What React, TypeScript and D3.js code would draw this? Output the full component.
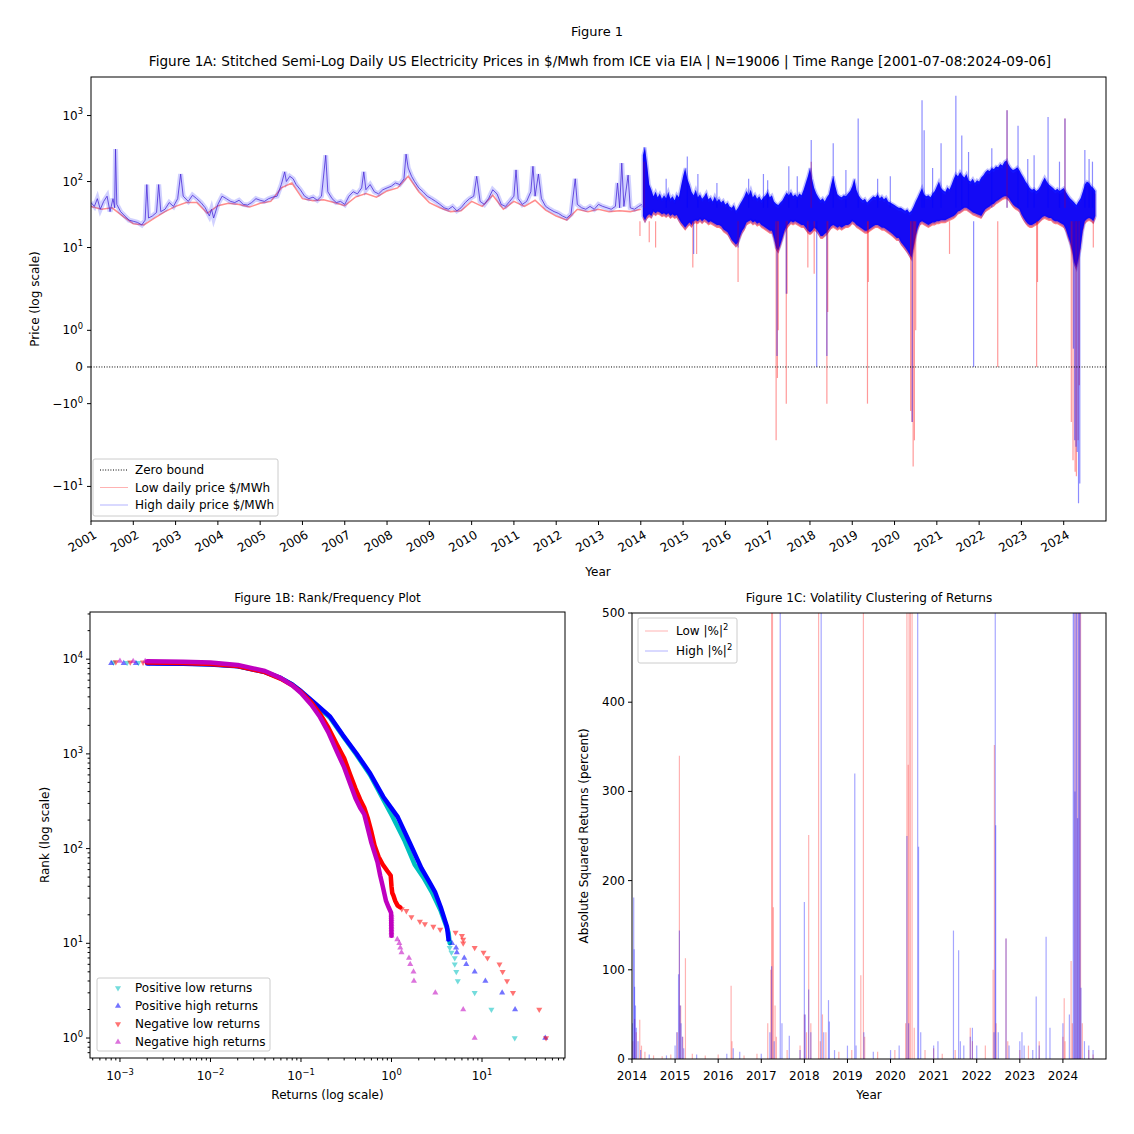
import { useEffect, useRef } from "react"
import * as d3 from "d3"

// ---------- Figure 1A: daily prices (decimal year on the tick grid, $/MWh) ----------
// single hub era, high daily price
const preHigh: [number, number][] = [
  [2001.0, 48], [2001.08, 42], [2001.15, 55], [2001.22, 38], [2001.3, 50], [2001.38, 60], [2001.45, 35],
  [2001.52, 55], [2001.56, 40], [2001.58, 310], [2001.61, 45], [2001.7, 35], [2001.8, 30], [2001.9, 26],
  [2002.0, 25], [2002.1, 24], [2002.2, 22], [2002.28, 26], [2002.32, 90], [2002.36, 28], [2002.45, 30],
  [2002.55, 34], [2002.6, 90], [2002.65, 35], [2002.75, 38], [2002.85, 48], [2002.95, 42], [2003.05, 55],
  [2003.12, 130], [2003.18, 60], [2003.3, 50], [2003.4, 62], [2003.5, 55], [2003.6, 48], [2003.7, 40],
  [2003.8, 30], [2003.85, 38], [2003.9, 28], [2004.0, 45], [2004.1, 60], [2004.2, 55], [2004.3, 50],
  [2004.4, 48], [2004.5, 52], [2004.6, 45], [2004.7, 44], [2004.8, 48], [2004.9, 55], [2005.0, 52],
  [2005.1, 50], [2005.2, 55], [2005.3, 58], [2005.4, 60], [2005.5, 90], [2005.58, 140], [2005.62, 100],
  [2005.7, 120], [2005.78, 110], [2005.85, 90], [2005.95, 75], [2006.05, 60], [2006.15, 55], [2006.25, 58],
  [2006.35, 52], [2006.45, 60], [2006.55, 250], [2006.6, 70], [2006.7, 55], [2006.8, 48], [2006.9, 50],
  [2007.0, 45], [2007.1, 60], [2007.2, 70], [2007.3, 65], [2007.4, 80], [2007.45, 140], [2007.5, 75],
  [2007.6, 90], [2007.7, 70], [2007.8, 65], [2007.9, 75], [2008.0, 80], [2008.1, 85], [2008.2, 95],
  [2008.3, 90], [2008.4, 110], [2008.45, 260], [2008.5, 160], [2008.58, 120], [2008.65, 100], [2008.75, 80],
  [2008.85, 70], [2008.95, 60], [2009.05, 55], [2009.15, 50], [2009.25, 45], [2009.35, 40], [2009.45, 38],
  [2009.55, 42], [2009.65, 36], [2009.75, 40], [2009.85, 48], [2009.95, 55], [2010.05, 60], [2010.12, 120],
  [2010.2, 50], [2010.3, 45], [2010.4, 55], [2010.5, 75], [2010.6, 65], [2010.7, 45], [2010.8, 42],
  [2010.9, 50], [2011.0, 60], [2011.05, 150], [2011.1, 55], [2011.2, 45], [2011.3, 50], [2011.4, 70],
  [2011.45, 170], [2011.5, 60], [2011.58, 130], [2011.65, 55], [2011.75, 42], [2011.85, 38], [2011.95, 35],
  [2012.05, 33], [2012.15, 30], [2012.25, 28], [2012.35, 32], [2012.45, 110], [2012.5, 45], [2012.6, 40],
  [2012.7, 38], [2012.8, 42], [2012.9, 38], [2013.0, 45], [2013.1, 42], [2013.2, 40], [2013.3, 38],
  [2013.4, 42], [2013.45, 95], [2013.5, 40], [2013.55, 190], [2013.6, 42], [2013.7, 125], [2013.75, 40],
  [2013.85, 38], [2013.95, 42], [2014.02, 45],
]

// single hub era, low daily price
const preLow: [number, number][] = [
  [2001.0, 42], [2001.25, 38], [2001.5, 40], [2001.75, 30], [2002.0, 23], [2002.25, 22], [2002.5, 28],
  [2002.75, 35], [2003.0, 42], [2003.25, 48], [2003.5, 48], [2003.75, 33], [2004.0, 43], [2004.25, 47],
  [2004.5, 45], [2004.75, 41], [2005.0, 47], [2005.25, 50], [2005.5, 80], [2005.75, 95], [2006.0, 55],
  [2006.25, 51], [2006.5, 53], [2006.75, 48], [2007.0, 43], [2007.25, 58], [2007.5, 66], [2007.75, 58],
  [2008.0, 72], [2008.25, 80], [2008.5, 120], [2008.75, 70], [2009.0, 48], [2009.25, 40], [2009.5, 35],
  [2009.75, 36], [2010.0, 50], [2010.25, 42], [2010.5, 62], [2010.75, 38], [2011.0, 50], [2011.25, 42],
  [2011.5, 52], [2011.75, 37], [2012.0, 30], [2012.25, 26], [2012.5, 38], [2012.75, 35], [2013.0, 38],
  [2013.25, 35], [2013.5, 36], [2013.75, 35], [2014.0, 38],
]

// stitched multi-hub era: dense band [year, bottom, top]
const band: [number, number, number][] = [
  [2014.05, 30, 250], [2014.1, 26, 330], [2014.15, 30, 180], [2014.2, 32, 90], [2014.25, 30, 75],
  [2014.3, 35, 60], [2014.35, 33, 70], [2014.4, 35, 58], [2014.45, 34, 66], [2014.5, 32, 55],
  [2014.55, 33, 62], [2014.6, 31, 56], [2014.65, 33, 70], [2014.7, 30, 55], [2014.75, 32, 60],
  [2014.8, 30, 52], [2014.85, 31, 64], [2014.9, 27, 58], [2014.95, 24, 85],
  [2015.0, 22, 120], [2015.05, 20, 160], [2015.1, 22, 110], [2015.15, 24, 90], [2015.2, 22, 70],
  [2015.25, 25, 62], [2015.3, 26, 75], [2015.35, 25, 58], [2015.4, 27, 64], [2015.45, 25, 55],
  [2015.5, 27, 60], [2015.55, 26, 68], [2015.6, 24, 54], [2015.65, 25, 58], [2015.7, 24, 50],
  [2015.75, 23, 60], [2015.8, 22, 50], [2015.85, 22, 55], [2015.9, 21, 48], [2015.95, 19, 52],
  [2016.0, 18, 45], [2016.05, 17, 48], [2016.1, 15, 42], [2016.15, 13, 40], [2016.2, 12, 44],
  [2016.25, 11, 36], [2016.3, 12, 40], [2016.35, 15, 46], [2016.4, 18, 52], [2016.45, 20, 60],
  [2016.5, 24, 72], [2016.55, 25, 62], [2016.6, 26, 75], [2016.65, 24, 58], [2016.7, 25, 64],
  [2016.75, 23, 55], [2016.8, 24, 60], [2016.85, 22, 52], [2016.9, 21, 58], [2016.95, 20, 62],
  [2017.0, 19, 70], [2017.05, 18, 58], [2017.1, 18, 62], [2017.15, 14, 50], [2017.2, 10, 46],
  [2017.25, 9, 44], [2017.3, 11, 48], [2017.35, 14, 52], [2017.4, 18, 60], [2017.45, 21, 68],
  [2017.5, 23, 62], [2017.55, 25, 70], [2017.6, 24, 60], [2017.65, 25, 64], [2017.7, 24, 58],
  [2017.75, 23, 66], [2017.8, 22, 62], [2017.85, 22, 75], [2017.9, 20, 95], [2017.95, 18, 120],
  [2018.0, 17, 160], [2018.05, 18, 110], [2018.1, 20, 80], [2018.15, 19, 66], [2018.2, 17, 58],
  [2018.25, 15, 52], [2018.3, 15, 56], [2018.35, 16, 50], [2018.4, 17, 58], [2018.45, 19, 64],
  [2018.5, 21, 90], [2018.55, 22, 120], [2018.6, 21, 85], [2018.65, 20, 64], [2018.7, 21, 60],
  [2018.75, 20, 58], [2018.8, 21, 62], [2018.85, 22, 60], [2018.9, 22, 66], [2018.95, 23, 72],
  [2019.0, 25, 85], [2019.05, 24, 110], [2019.1, 22, 75], [2019.15, 21, 62], [2019.2, 20, 56],
  [2019.25, 19, 52], [2019.3, 18, 55], [2019.35, 18, 48], [2019.4, 19, 52], [2019.45, 20, 56],
  [2019.5, 21, 60], [2019.55, 22, 58], [2019.6, 22, 64], [2019.65, 21, 56], [2019.7, 20, 60],
  [2019.75, 20, 54], [2019.8, 19, 58], [2019.85, 18, 50], [2019.9, 17, 48], [2019.95, 16, 46],
  [2020.0, 15, 44], [2020.05, 14, 42], [2020.1, 14, 40], [2020.15, 12, 40], [2020.2, 11, 38],
  [2020.25, 10, 36], [2020.3, 9, 38], [2020.35, 8, 34], [2020.4, 7, 36], [2020.45, 10, 42],
  [2020.5, 15, 50], [2020.55, 20, 58], [2020.6, 24, 68], [2020.65, 25, 80], [2020.7, 24, 64],
  [2020.75, 23, 60], [2020.8, 22, 62], [2020.85, 23, 58], [2020.9, 24, 66], [2020.95, 24, 72],
  [2021.0, 25, 85], [2021.05, 25, 100], [2021.1, 26, 80], [2021.15, 26, 74], [2021.2, 26, 70],
  [2021.25, 27, 82], [2021.3, 28, 76], [2021.35, 29, 90], [2021.4, 30, 110], [2021.45, 32, 130],
  [2021.5, 35, 120], [2021.55, 36, 140], [2021.6, 38, 125], [2021.65, 40, 115], [2021.7, 40, 130],
  [2021.75, 38, 105], [2021.8, 36, 100], [2021.85, 34, 110], [2021.9, 33, 95], [2021.95, 32, 105],
  [2022.0, 31, 100], [2022.05, 30, 115], [2022.1, 34, 125], [2022.15, 38, 140], [2022.2, 40, 150],
  [2022.25, 42, 145], [2022.3, 45, 160], [2022.35, 46, 155], [2022.4, 50, 170], [2022.45, 52, 165],
  [2022.5, 55, 185], [2022.55, 58, 175], [2022.6, 60, 200], [2022.65, 60, 210], [2022.7, 56, 180],
  [2022.75, 50, 160], [2022.8, 45, 150], [2022.85, 42, 155], [2022.9, 40, 165], [2022.95, 38, 150],
  [2023.0, 32, 130], [2023.05, 28, 115], [2023.1, 25, 100], [2023.15, 23, 90], [2023.2, 22, 80],
  [2023.25, 22, 75], [2023.3, 23, 78], [2023.35, 24, 72], [2023.4, 25, 76], [2023.45, 27, 85],
  [2023.5, 29, 100], [2023.55, 30, 115], [2023.6, 29, 100], [2023.65, 28, 90], [2023.7, 28, 85],
  [2023.75, 26, 80], [2023.8, 25, 74], [2023.85, 25, 78], [2023.9, 24, 72], [2023.95, 23, 76],
  [2024.0, 22, 80], [2024.05, 19, 70], [2024.1, 15, 62], [2024.15, 12, 56], [2024.2, 9, 52],
  [2024.25, 6, 48], [2024.3, 5, 44], [2024.35, 7, 50], [2024.4, 10, 56], [2024.45, 18, 70],
  [2024.5, 25, 90], [2024.55, 27, 100], [2024.6, 28, 95], [2024.65, 27, 85], [2024.7, 25, 80],
  [2024.75, 30, 72],
]

// isolated daily extremes leaving the band [year, price]
const highSpikes: [number, number][] = [
  [2014.08, 330], [2015.1, 240], [2015.35, 130], [2016.55, 110], [2017.0, 105], [2017.5, 170],
  [2018.03, 425], [2018.55, 380], [2019.14, 900], [2019.9, 120], [2020.65, 1700], [2020.7, 600],
  [2021.1, 380], [2021.45, 2000], [2021.59, 500], [2022.66, 1200], [2022.92, 700], [2023.3, 250],
  [2023.63, 950], [2024.03, 900], [2024.5, 300], [2024.68, 200], [2014.6, 110], [2015.8, 95],
  [2016.9, 130], [2017.7, 120], [2018.85, 150], [2019.6, 110], [2020.9, 160], [2021.75, 280],
  [2022.3, 320], [2023.15, 220], [2023.9, 200], [2024.6, 220],
  [2015.25, 8], [2016.3, 10], [2017.22, 0.3], [2017.44, 2], [2018.16, 0], [2018.4, 0.3], [2020.42, -1.5],
  [2021.87, 0], [2024.23, 0.5], [2024.26, -2], [2024.29, -2.5], [2024.32, -3], [2024.35, -18], [2024.38, -9],
]
const lowSpikes: [number, number][] = [
  [2014.08, 200], [2018.03, 200], [2022.66, 1200], [2024.03, 900],
  [2013.98, 15], [2014.2, 12], [2014.35, 10], [2015.23, 5], [2015.32, 8], [2016.3, 3], [2017.2, -2],
  [2017.23, -0.3], [2017.25, 1], [2017.44, -1], [2017.46, 2], [2017.95, 5], [2018.1, 4], [2018.4, -1],
  [2018.42, 1.5], [2019.36, -1], [2019.38, 3], [2020.38, -1.2], [2020.41, -1.5], [2020.44, -5],
  [2020.47, -2], [2020.5, 1], [2021.3, 8], [2022.44, 0], [2023.36, 0], [2023.38, 3], [2024.18, -1.5],
  [2024.22, -4], [2024.27, -6], [2024.3, -7], [2024.34, -2], [2024.37, -0.5], [2024.7, 10],
]
const yearTicksA = d3.range(2001, 2025)
const priceTicks = [1000, 100, 10, 1, 0, -1, -10]

// ---------- Figure 1B: rank / frequency [abs return, rank] ----------
const posLowDense: [number, number][] = [
  [0.0025, 9120], [0.005, 9000], [0.01, 8850], [0.02, 8450], [0.04, 7350], [0.06, 6300], [0.08, 5400],
  [0.1, 4550], [0.15, 3200], [0.21, 2400], [0.29, 1550], [0.41, 980], [0.58, 600], [0.81, 330],
  [1.03, 216], [1.4, 120], [1.8, 68], [2.3, 48], [2.78, 35], [3.5, 22], [4.27, 13], [4.4, 10],
]
const posHighDense: [number, number][] = [
  [0.002, 9000], [0.005, 8950], [0.01, 8800], [0.02, 8400], [0.04, 7300], [0.06, 6300], [0.08, 5400],
  [0.1, 4600], [0.15, 3280], [0.21, 2470], [0.29, 1580], [0.41, 1010], [0.58, 624], [0.81, 353],
  [1.17, 216], [1.6, 114], [2.14, 62], [2.6, 45], [3.02, 35], [3.5, 24], [4.1, 15], [4.27, 11],
]
const negLowDense: [number, number][] = [
  [0.002, 9200], [0.005, 9100], [0.01, 8900], [0.02, 8450], [0.04, 7300], [0.06, 6200], [0.08, 5300],
  [0.1, 4500], [0.13, 3500], [0.16, 2700], [0.2, 1900], [0.25, 1250], [0.3, 900], [0.35, 600],
  [0.4, 430], [0.45, 330], [0.5, 270], [0.55, 205], [0.6, 150], [0.65, 108], [0.72, 82], [0.8, 68],
  [0.9, 58], [0.98, 52], [1.0, 40], [1.02, 34], [1.05, 32], [1.1, 28], [1.17, 25], [1.25, 24],
]
const negHighDense: [number, number][] = [
  [0.002, 9480], [0.005, 9380], [0.01, 9200], [0.02, 8700], [0.04, 7500], [0.06, 6300], [0.08, 5300],
  [0.1, 4400], [0.13, 3300], [0.16, 2500], [0.2, 1700], [0.25, 1050], [0.3, 720], [0.35, 480],
  [0.4, 340], [0.45, 270], [0.5, 230], [0.55, 160], [0.6, 115], [0.65, 90], [0.7, 72], [0.75, 52],
  [0.8, 40], [0.87, 28], [0.93, 24], [0.99, 21], [1.0, 12],
]
const posLowSparse: [number, number][] = [
  [0.00085, 9200], [0.0012, 9180], [0.0016, 9160], [0.0021, 9140],
  [4.4, 9], [4.6, 8], [5.0, 7], [5.0, 6], [5.2, 5], [5.4, 4], [8.3, 3], [12.7, 2], [23, 1],
]
const posHighSparse: [number, number][] = [
  [0.0008, 9080], [0.0011, 9060], [0.0015, 9040],
  [4.27, 11], [4.66, 10], [5.17, 9], [5.27, 8], [6.37, 7], [6.7, 6], [8.3, 5], [10.9, 4], [16.7, 3],
  [23.2, 2], [50, 1],
]
const negLowSparse: [number, number][] = [
  [0.0009, 9320], [0.0013, 9290], [0.0018, 9250],
  [1.3, 23], [1.46, 22], [1.66, 19], [2.06, 17], [2.34, 16], [2.9, 15], [3.45, 14], [5.1, 13], [6.0, 12],
  [6.2, 11], [6.2, 10], [8.3, 9], [10.4, 8], [11.5, 7], [15.6, 6], [16.9, 5], [18.9, 4], [22, 3],
  [42.9, 2], [51, 1],
]
const negHighSparse: [number, number][] = [
  [0.001, 9560], [0.0014, 9530], [0.0019, 9500],
  [1.0, 20], [1.0, 19], [1.0, 18], [1.0, 17], [1.0, 16], [1.0, 15], [1.0, 14], [1.0, 13], [1.0, 12],
  [1.16, 11], [1.22, 10], [1.25, 9], [1.29, 8], [1.56, 7], [1.61, 6], [1.75, 5], [1.77, 4], [3.05, 3],
  [6.2, 2], [8.3, 1],
]
const rankSeries = [
  { label: "Positive low returns", color: "#00bfbf", up: false, dense: posLowDense, sparse: posLowSparse },
  { label: "Positive high returns", color: "#0000ff", up: true, dense: posHighDense, sparse: posHighSparse },
  { label: "Negative low returns", color: "#ff0000", up: false, dense: negLowDense, sparse: negLowSparse },
  { label: "Negative high returns", color: "#bf00bf", up: true, dense: negHighDense, sparse: negHighSparse },
]

// ---------- Figure 1C: squared returns [year, |%|^2] ----------
const lowSquared: [number, number][] = [
  [2014.02, 20], [2014.06, 45], [2014.1, 30], [2014.18, 44], [2014.22, 15], [2014.3, 8], [2014.5, 4],
  [2014.7, 3], [2014.9, 5], [2015.05, 30], [2015.1, 340], [2015.13, 60], [2015.18, 25], [2015.24, 113],
  [2015.4, 6], [2015.7, 4], [2016.0, 5], [2016.3, 82], [2016.32, 20], [2016.6, 4], [2016.9, 6],
  [2017.15, 40], [2017.22, 100], [2017.24, 600], [2017.26, 600], [2017.28, 170], [2017.32, 60],
  [2017.35, 25], [2017.6, 10], [2017.9, 15], [2018.0, 50], [2018.05, 30], [2018.1, 251], [2018.15, 40],
  [2018.33, 600], [2018.37, 20], [2018.42, 50], [2018.5, 30], [2018.8, 8], [2019.1, 10], [2019.31, 94],
  [2019.37, 600], [2019.4, 25], [2019.7, 8], [2020.1, 10], [2020.35, 40], [2020.38, 600], [2020.41, 330],
  [2020.43, 600], [2020.46, 600], [2020.5, 600], [2020.55, 35], [2020.8, 10], [2021.0, 12], [2021.2, 6],
  [2021.5, 10], [2021.85, 35], [2021.9, 20], [2022.2, 15], [2022.38, 100], [2022.41, 352], [2022.45, 40],
  [2022.68, 135], [2022.72, 20], [2023.0, 10], [2023.2, 15], [2023.45, 20], [2024.0, 25], [2024.03, 68],
  [2024.05, 20], [2024.19, 110], [2024.22, 40], [2024.28, 600], [2024.33, 600], [2024.38, 600],
  [2024.41, 600], [2024.45, 40], [2024.6, 10], [2024.7, 5],
]
const highSquared: [number, number][] = [
  [2014.01, 40], [2014.04, 181], [2014.05, 123], [2014.06, 81], [2014.08, 60], [2014.1, 35], [2014.14, 20],
  [2014.2, 10], [2014.4, 5], [2014.8, 4], [2015.0, 15], [2015.04, 30], [2015.08, 95], [2015.1, 144],
  [2015.12, 60], [2015.14, 40], [2015.17, 25], [2015.2, 12], [2015.5, 5], [2016.2, 6], [2016.35, 12],
  [2016.5, 8], [2017.0, 6], [2017.2, 30], [2017.24, 104], [2017.3, 20], [2017.44, 600], [2017.48, 40],
  [2017.65, 26], [2017.9, 10], [2018.0, 176], [2018.02, 50], [2018.1, 78], [2018.15, 30], [2018.39, 600],
  [2018.45, 30], [2018.56, 66], [2018.58, 42], [2018.7, 10], [2019.0, 15], [2019.17, 320], [2019.2, 15],
  [2019.38, 30], [2019.6, 8], [2020.0, 10], [2020.2, 15], [2020.38, 250], [2020.42, 40], [2020.63, 600],
  [2020.65, 238], [2020.7, 30], [2021.0, 15], [2021.1, 20], [2021.46, 144], [2021.58, 122], [2021.62, 20],
  [2021.7, 15], [2021.85, 25], [2021.9, 35], [2022.0, 15], [2022.4, 30], [2022.43, 600], [2022.44, 262],
  [2022.5, 30], [2022.68, 135], [2022.75, 15], [2023.0, 20], [2023.05, 30], [2023.1, 15], [2023.3, 10],
  [2023.38, 70], [2023.45, 15], [2023.61, 137], [2023.7, 35], [2024.0, 40], [2024.15, 50], [2024.24, 600],
  [2024.26, 600], [2024.28, 300], [2024.3, 600], [2024.32, 600], [2024.34, 270], [2024.36, 600],
  [2024.38, 600], [2024.4, 600], [2024.42, 80], [2024.5, 20], [2024.6, 15], [2024.7, 10],
]
const yearTicksC = d3.range(2014, 2025)
const squaredTicks = [0, 100, 200, 300, 400, 500]

const FONT = "'DejaVu Sans', sans-serif"
const FS = 12
const MINUS = "\u2212"

// matplotlib symlog, linthresh 2, linscale 1
const LINTHRESH = 2
const LINSCALE = 1 / (1 - 1 / 10)
function symlog(v: number) {
  const a = Math.abs(v)
  const t = a <= LINTHRESH ? (a / LINTHRESH) * LINSCALE : LINSCALE + Math.log10(a / LINTHRESH)
  return Math.sign(v) * t
}

function supLabel(g: any, x: number, y: number, anchor: string, base: string, sup: string) {
  const t = g.append("text").attr("x", x).attr("y", y).attr("text-anchor", anchor).attr("font-size", FS)
  t.append("tspan").text(base)
  if (sup !== "") t.append("tspan").attr("font-size", FS * 0.7).attr("dy", -FS * 0.42).text(sup)
  return t
}

function legendBox(g: any, x: number, y: number, w: number, h: number) {
  g.append("rect").attr("x", x).attr("y", y).attr("width", w).attr("height", h).attr("rx", 2)
    .attr("fill", "white").attr("fill-opacity", 0.8).attr("stroke", "#cccccc").attr("stroke-width", 1)
}

export default function App() {
  const svgRef = useRef<SVGSVGElement>(null)

  useEffect(() => {
    if (!svgRef.current) return
    const svg = d3.select(svgRef.current)
    svg.selectAll("*").remove()
    svg.attr("font-family", FONT).attr("fill", "#000")

    svg.append("text").attr("x", 597).attr("y", 36).attr("text-anchor", "middle").attr("font-size", 13)
      .text("Figure 1")

    // ================= Figure 1A =================
    const A = { left: 91, right: 1106, top: 77, bottom: 521 }
    const xA = d3.scaleLinear().domain([2001, 2025]).range([A.left, A.right])
    const yT = d3.scaleLinear().domain([symlog(-33.4), symlog(3837)]).range([A.bottom, A.top])
    const yA = (v: number) => yT(symlog(v))

    const gA = svg.append("g")
    svg.append("clipPath").attr("id", "clipA").append("rect")
      .attr("x", A.left).attr("y", A.top).attr("width", A.right - A.left).attr("height", A.bottom - A.top)
    const plotA = gA.append("g").attr("clip-path", "url(#clipA)")

    const lineA = d3.line<[number, number]>().x((d) => xA(d[0])).y((d) => yA(d[1]))
    // low price (red) under high price (blue)
    plotA.append("path").attr("d", lineA(preLow)).attr("fill", "none").attr("stroke", "#ff0000")
      .attr("stroke-opacity", 0.45).attr("stroke-width", 1.5)
    plotA.append("path").attr("d", lineA(preHigh)).attr("fill", "none").attr("stroke", "#0000ff")
      .attr("stroke-opacity", 0.18).attr("stroke-width", 5)
    plotA.append("path").attr("d", lineA(preHigh)).attr("fill", "none").attr("stroke", "#4a2ad8")
      .attr("stroke-opacity", 0.8).attr("stroke-width", 1)

    const bandArea = d3.area<[number, number, number]>()
      .x((d) => xA(d[0])).y0((d) => yA(d[1])).y1((d) => yA(d[2]))
    plotA.append("path").attr("d", bandArea(band)).attr("transform", "translate(0,3)")
      .attr("fill", "#ff0000").attr("fill-opacity", 0.5)
    plotA.append("path").attr("d", bandArea(band)).attr("fill", "#0000ff").attr("fill-opacity", 0.92)
      .attr("stroke", "#0000ff").attr("stroke-opacity", 0.25).attr("stroke-width", 3)

    const spikeBase = (tip: number) => (tip > 40 ? 40 : 25)
    plotA.append("g").selectAll("line").data(lowSpikes).join("line")
      .attr("x1", (d) => xA(d[0])).attr("x2", (d) => xA(d[0]))
      .attr("y1", (d) => yA(spikeBase(d[1]))).attr("y2", (d) => yA(d[1]))
      .attr("stroke", "#ff0000").attr("stroke-opacity", 0.4).attr("stroke-width", 1.2)
    plotA.append("g").selectAll("line").data(highSpikes).join("line")
      .attr("x1", (d) => xA(d[0])).attr("x2", (d) => xA(d[0]))
      .attr("y1", (d) => yA(spikeBase(d[1]))).attr("y2", (d) => yA(d[1]))
      .attr("stroke", "#0000ff").attr("stroke-opacity", 0.45).attr("stroke-width", 1.2)

    // zero bound
    gA.append("line").attr("x1", A.left).attr("x2", A.right).attr("y1", yA(0)).attr("y2", yA(0))
      .attr("stroke", "#000").attr("stroke-width", 1).attr("stroke-dasharray", "1,1.6")

    gA.append("rect").attr("x", A.left).attr("y", A.top).attr("width", A.right - A.left)
      .attr("height", A.bottom - A.top).attr("fill", "none").attr("stroke", "#000").attr("stroke-width", 1)

    // y ticks
    priceTicks.forEach((v) => {
      const y = yA(v)
      gA.append("line").attr("x1", A.left - 4).attr("x2", A.left).attr("y1", y).attr("y2", y)
        .attr("stroke", "#000")
      if (v === 0) {
        supLabel(gA, A.left - 8, y + 4, "end", "0", "")
      } else {
        const e = Math.round(Math.log10(Math.abs(v)))
        supLabel(gA, A.left - 8, y + 4, "end", (v < 0 ? MINUS : "") + "10", String(e))
      }
    })
    // x ticks
    yearTicksA.forEach((yr) => {
      const x = xA(yr)
      gA.append("line").attr("x1", x).attr("x2", x).attr("y1", A.bottom).attr("y2", A.bottom + 4)
        .attr("stroke", "#000")
      gA.append("text").attr("transform", `translate(${x + 2},${A.bottom + 8}) rotate(-30)`)
        .attr("text-anchor", "end").attr("dy", "0.78em").attr("font-size", FS).text(String(yr))
    })
    gA.append("text").attr("x", 598).attr("y", 576).attr("text-anchor", "middle").attr("font-size", FS)
      .text("Year")
    gA.append("text").attr("transform", `translate(39,${(A.top + A.bottom) / 2}) rotate(-90)`)
      .attr("text-anchor", "middle").attr("font-size", FS).text("Price (log scale)")
    gA.append("text").attr("x", 600).attr("y", 66).attr("text-anchor", "middle")
      .attr("font-size", 13.6)
      .text("Figure 1A: Stitched Semi-Log Daily US Electricity Prices in $/Mwh from ICE via EIA | N=19006 | Time Range [2001-07-08:2024-09-06]")

    // legend 1A
    legendBox(gA, 93, 459, 185, 57)
    const legA = [
      { label: "Zero bound", color: "#000", dash: "1,1.6", op: 1 },
      { label: "Low daily price $/MWh", color: "#ff0000", dash: null, op: 0.3 },
      { label: "High daily price $/MWh", color: "#0000ff", dash: null, op: 0.3 },
    ]
    legA.forEach((d, i) => {
      const y = 470 + i * 17.5
      gA.append("line").attr("x1", 100).attr("x2", 128).attr("y1", y).attr("y2", y)
        .attr("stroke", d.color).attr("stroke-opacity", d.op).attr("stroke-width", 1)
        .attr("stroke-dasharray", d.dash)
      gA.append("text").attr("x", 135).attr("y", y + 4).attr("font-size", FS).text(d.label)
    })

    // ================= Figure 1B =================
    const B = { left: 90, right: 565, top: 612, bottom: 1058 }
    const xB = d3.scaleLog().domain([10 ** -3.331, 10 ** 1.917]).range([B.left, B.right])
    const yB = d3.scaleLog().domain([10 ** -0.211, 10 ** 4.498]).range([B.bottom, B.top])
    const gB = svg.append("g")
    svg.append("clipPath").attr("id", "clipB").append("rect")
      .attr("x", B.left).attr("y", B.top).attr("width", B.right - B.left).attr("height", B.bottom - B.top)
    const plotB = gB.append("g").attr("clip-path", "url(#clipB)")
    const lineB = d3.line<[number, number]>().x((d) => xB(d[0])).y((d) => yB(d[1]))
    const tri = d3.symbol().type(d3.symbolTriangle).size(16)

    rankSeries.forEach((s) => {
      plotB.append("path").attr("d", lineB(s.dense)).attr("fill", "none").attr("stroke", s.color)
        .attr("stroke-width", 4.5).attr("stroke-linejoin", "round").attr("stroke-linecap", "round")
      plotB.append("g").selectAll("path").data(s.sparse).join("path")
        .attr("d", tri)
        .attr("transform", (d) => `translate(${xB(d[0])},${yB(d[1])}) rotate(${s.up ? 0 : 180})`)
        .attr("fill", s.color).attr("fill-opacity", 0.55)
    })

    gB.append("rect").attr("x", B.left).attr("y", B.top).attr("width", B.right - B.left)
      .attr("height", B.bottom - B.top).attr("fill", "none").attr("stroke", "#000").attr("stroke-width", 1)

    const [bx0, bx1] = xB.domain()
    const [by0, by1] = yB.domain()
    d3.range(-4, 6).forEach((e) => {
      d3.range(1, 10).forEach((k) => {
        const v = k * 10 ** e
        if (v >= bx0 && v <= bx1) {
          const x = xB(v)
          gB.append("line").attr("x1", x).attr("x2", x).attr("y1", B.bottom)
            .attr("y2", B.bottom + (k === 1 ? 4 : 2.4)).attr("stroke", "#000")
          if (k === 1) supLabel(gB, x, B.bottom + 22, "middle", "10", (e < 0 ? MINUS : "") + Math.abs(e))
        }
        if (v >= by0 && v <= by1) {
          const y = yB(v)
          gB.append("line").attr("x1", B.left - (k === 1 ? 4 : 2.4)).attr("x2", B.left).attr("y1", y)
            .attr("y2", y).attr("stroke", "#000")
          if (k === 1) supLabel(gB, B.left - 7, y + 4, "end", "10", String(e))
        }
      })
    })
    gB.append("text").attr("x", (B.left + B.right) / 2).attr("y", 1099).attr("text-anchor", "middle")
      .attr("font-size", FS).text("Returns (log scale)")
    gB.append("text").attr("transform", `translate(49,${(B.top + B.bottom) / 2}) rotate(-90)`)
      .attr("text-anchor", "middle").attr("font-size", FS).text("Rank (log scale)")
    gB.append("text").attr("x", (B.left + B.right) / 2).attr("y", 602).attr("text-anchor", "middle")
      .attr("font-size", FS).text("Figure 1B: Rank/Frequency Plot")

    legendBox(gB, 97, 978, 173, 73)
    rankSeries.forEach((s, i) => {
      const y = 988 + i * 18
      gB.append("path").attr("d", tri)
        .attr("transform", `translate(118,${y}) rotate(${s.up ? 0 : 180})`)
        .attr("fill", s.color).attr("fill-opacity", 0.55)
      gB.append("text").attr("x", 135).attr("y", y + 4).attr("font-size", FS).text(s.label)
    })

    // ================= Figure 1C =================
    const C = { left: 632, right: 1106, top: 613, bottom: 1059 }
    const xC = d3.scaleLinear().domain([2014, 2025]).range([C.left, C.right])
    const yC = d3.scaleLinear().domain([0, 500]).range([C.bottom, C.top])
    const gC = svg.append("g")
    svg.append("clipPath").attr("id", "clipC").append("rect")
      .attr("x", C.left).attr("y", C.top).attr("width", C.right - C.left).attr("height", C.bottom - C.top)
    const plotC = gC.append("g").attr("clip-path", "url(#clipC)")
    plotC.append("g").selectAll("line").data(lowSquared).join("line")
      .attr("x1", (d) => xC(d[0])).attr("x2", (d) => xC(d[0]))
      .attr("y1", yC(0)).attr("y2", (d) => yC(d[1]))
      .attr("stroke", "#ff0000").attr("stroke-opacity", 0.3).attr("stroke-width", 1.2)
    plotC.append("g").selectAll("line").data(highSquared).join("line")
      .attr("x1", (d) => xC(d[0])).attr("x2", (d) => xC(d[0]))
      .attr("y1", yC(0)).attr("y2", (d) => yC(d[1]))
      .attr("stroke", "#0000ff").attr("stroke-opacity", 0.35).attr("stroke-width", 1.2)

    gC.append("rect").attr("x", C.left).attr("y", C.top).attr("width", C.right - C.left)
      .attr("height", C.bottom - C.top).attr("fill", "none").attr("stroke", "#000").attr("stroke-width", 1)
    squaredTicks.forEach((v) => {
      const y = yC(v)
      gC.append("line").attr("x1", C.left - 4).attr("x2", C.left).attr("y1", y).attr("y2", y)
        .attr("stroke", "#000")
      gC.append("text").attr("x", C.left - 7).attr("y", y + 4).attr("text-anchor", "end")
        .attr("font-size", FS).text(String(v))
    })
    yearTicksC.forEach((yr) => {
      const x = xC(yr)
      gC.append("line").attr("x1", x).attr("x2", x).attr("y1", C.bottom).attr("y2", C.bottom + 4)
        .attr("stroke", "#000")
      gC.append("text").attr("x", x).attr("y", C.bottom + 21).attr("text-anchor", "middle")
        .attr("font-size", FS).text(String(yr))
    })
    gC.append("text").attr("x", (C.left + C.right) / 2).attr("y", 1099).attr("text-anchor", "middle")
      .attr("font-size", FS).text("Year")
    gC.append("text").attr("transform", `translate(588,${(C.top + C.bottom) / 2}) rotate(-90)`)
      .attr("text-anchor", "middle").attr("font-size", FS).text("Absolute Squared Returns (percent)")
    gC.append("text").attr("x", (C.left + C.right) / 2).attr("y", 602).attr("text-anchor", "middle")
      .attr("font-size", FS).text("Figure 1C: Volatility Clustering of Returns")

    legendBox(gC, 638, 618, 99, 45)
    const legC = [
      { label: "Low |%|", color: "#ff0000" },
      { label: "High |%|", color: "#0000ff" },
    ]
    legC.forEach((d, i) => {
      const y = 631 + i * 20
      gC.append("line").attr("x1", 645).attr("x2", 668).attr("y1", y).attr("y2", y)
        .attr("stroke", d.color).attr("stroke-opacity", 0.3).attr("stroke-width", 1)
      supLabel(gC, 676, y + 4, "start", d.label, "2")
    })
  }, [])

  return (
    <div style={{ position: "absolute", left: 0, top: 0, background: "white" }}>
      <svg ref={svgRef} width={1134} height={1134} style={{ display: "block" }}></svg>
    </div>
  )
}
